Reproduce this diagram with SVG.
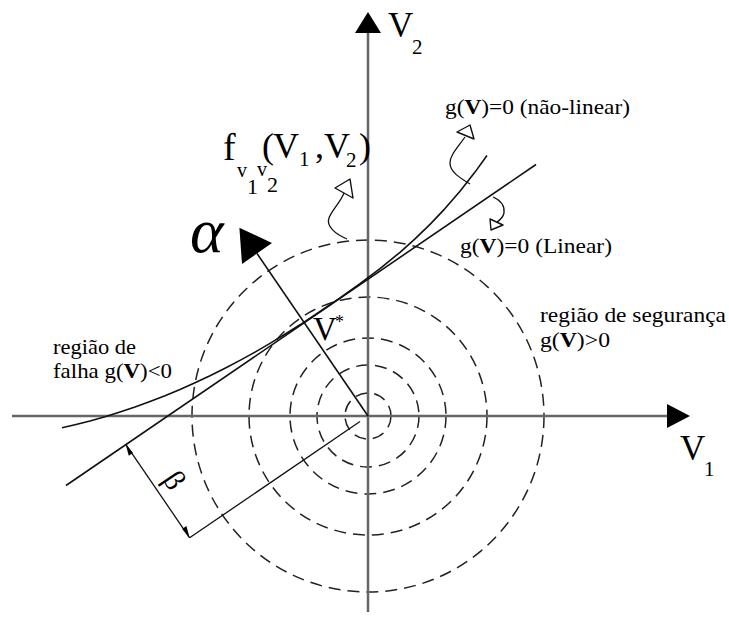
<svg xmlns="http://www.w3.org/2000/svg" width="729" height="622" viewBox="0 0 729 622">
<style>
text{font-family:"Liberation Serif","Times New Roman",serif;fill:#000}
.lbl{font-size:21px}
.axis{stroke:#666;stroke-width:2.5;fill:none}
.ln{stroke:#111;stroke-width:1.6;fill:none;stroke-linejoin:round}
.thin{stroke:#111;stroke-width:1.3;fill:none}
.dash{stroke:#222;stroke-width:1.5;fill:none;stroke-dasharray:12 7}
.lead{stroke:#111;stroke-width:1.3;fill:none}
.hollow{fill:#fff;stroke:#111;stroke-width:1.4;stroke-linejoin:round}
.solid{fill:#000;stroke:none}
</style>
<rect width="729" height="622" fill="#fff"/>
<g id="circles">
<circle class="dash" cx="368" cy="416" r="23"/>
<circle class="dash" cx="368" cy="416" r="51"/>
<circle class="dash" cx="368" cy="416" r="78"/>
<circle class="dash" cx="368" cy="416" r="119"/>
<circle class="dash" cx="368" cy="416" r="176"/>
</g>
<g id="axes">
<line class="axis" x1="12" y1="416" x2="670" y2="416"/>
<polygon class="solid" points="690,416 667,404 667,428"/>
<line class="axis" x1="368" y1="612" x2="368" y2="31"/>
<polygon class="solid" points="368,12 355,33 381,33"/>
</g>
<g id="connectors">
<line id="linear" class="ln" x1="66" y1="485.5" x2="536" y2="164.5"/>
<path id="nonlinear" class="ln" d="M62,427.8 L75,424.8 L90,421 L105,416.8 L120,412.1 L135,407.1 L150,401.6 L165,395.8 L180,389.5 L195,382.8 L210,375.8 L225,368.3 L240,360.4 L255,352.1 L270,343.4 L285,334.3 L300,324.8 L320,311.5 L340,297.8 L360,283.6 L380,268.6 L400,252.3 L415,238.9 L430,224.4 L445,208.6 L460,191.2 L475,172.1 L487,155.5"/>
<line id="alpha-line" class="ln" x1="368" y1="416" x2="257" y2="253.5"/>
<polygon class="solid" points="239.4,227.7 272,243 242,264"/>
<line id="ext" class="thin" x1="360" y1="421.5" x2="189.6" y2="537.8"/>
<line id="dim" class="thin" x1="125.6" y1="444.1" x2="189.6" y2="537.8"/>
<polygon class="solid" points="125.6,444.1 133,452.9 128.8,455.8"/>
<polygon class="solid" points="189.6,537.8 182.2,529 186.4,526.1"/>
<path class="lead" d="M347,239 C335,234 326,226 329,218 C332,210 340,203 344,193"/>
<polygon class="hollow" points="350,179 353,198 335,188"/>
<path class="lead" d="M470,184 C460,178 450,172 450,163 C450,155 458,147 465,137"/>
<polygon class="hollow" points="470,125 474,139 457,132"/>
<path class="lead" d="M493,197 C500,200 505,205 504,213 C503,218 500,220 497,222"/>
<polygon class="hollow" points="490,219 503,225 491,230"/>
</g>
<g id="labels">
<text class="lbl" x="445" y="114" textLength="185" lengthAdjust="spacingAndGlyphs">g(<tspan font-weight="bold">V</tspan>)=0 (não-linear)</text>
<text class="lbl" x="460" y="253" textLength="152" lengthAdjust="spacingAndGlyphs">g(<tspan font-weight="bold">V</tspan>)=0 (Linear)</text>
<text class="lbl" x="540" y="322" textLength="186" lengthAdjust="spacingAndGlyphs">região de segurança</text>
<text class="lbl" x="540" y="347" textLength="70" lengthAdjust="spacingAndGlyphs">g(<tspan font-weight="bold">V</tspan>)&gt;0</text>
<text class="lbl" x="53" y="354" textLength="83" lengthAdjust="spacingAndGlyphs">região de</text>
<text class="lbl" x="53" y="378" textLength="119" lengthAdjust="spacingAndGlyphs">falha g(<tspan font-weight="bold">V</tspan>)&lt;0</text>
<text x="313" y="340" font-size="33">V</text>
<text x="335" y="328" font-size="18">*</text>
<text x="680" y="460" font-size="35">V</text>
<text x="704" y="476" font-size="21">1</text>
<text x="388" y="37" font-size="35">V</text>
<text x="412" y="54" font-size="21">2</text>
<text x="190" y="252" font-size="64" font-style="italic">α</text>
<text transform="translate(172,482) rotate(56)" x="0" y="7" font-size="30" text-anchor="middle">β</text>
<g id="f-label">
<text x="223" y="160" font-size="38">f</text>
<text x="237" y="177" font-size="20">v</text>
<text x="247" y="194" font-size="22">1</text>
<text x="257" y="176" font-size="20">v</text>
<text x="267" y="192" font-size="22">2</text>
<text x="262" y="158" font-size="36">(</text>
<text x="273" y="158" font-size="36">V</text>
<text x="299" y="166" font-size="21">1</text>
<text x="315" y="158" font-size="36">,</text>
<text x="324" y="158" font-size="36">V</text>
<text x="346" y="167" font-size="21">2</text>
<text x="359" y="158" font-size="36">)</text>
</g>
</g>
</svg>
